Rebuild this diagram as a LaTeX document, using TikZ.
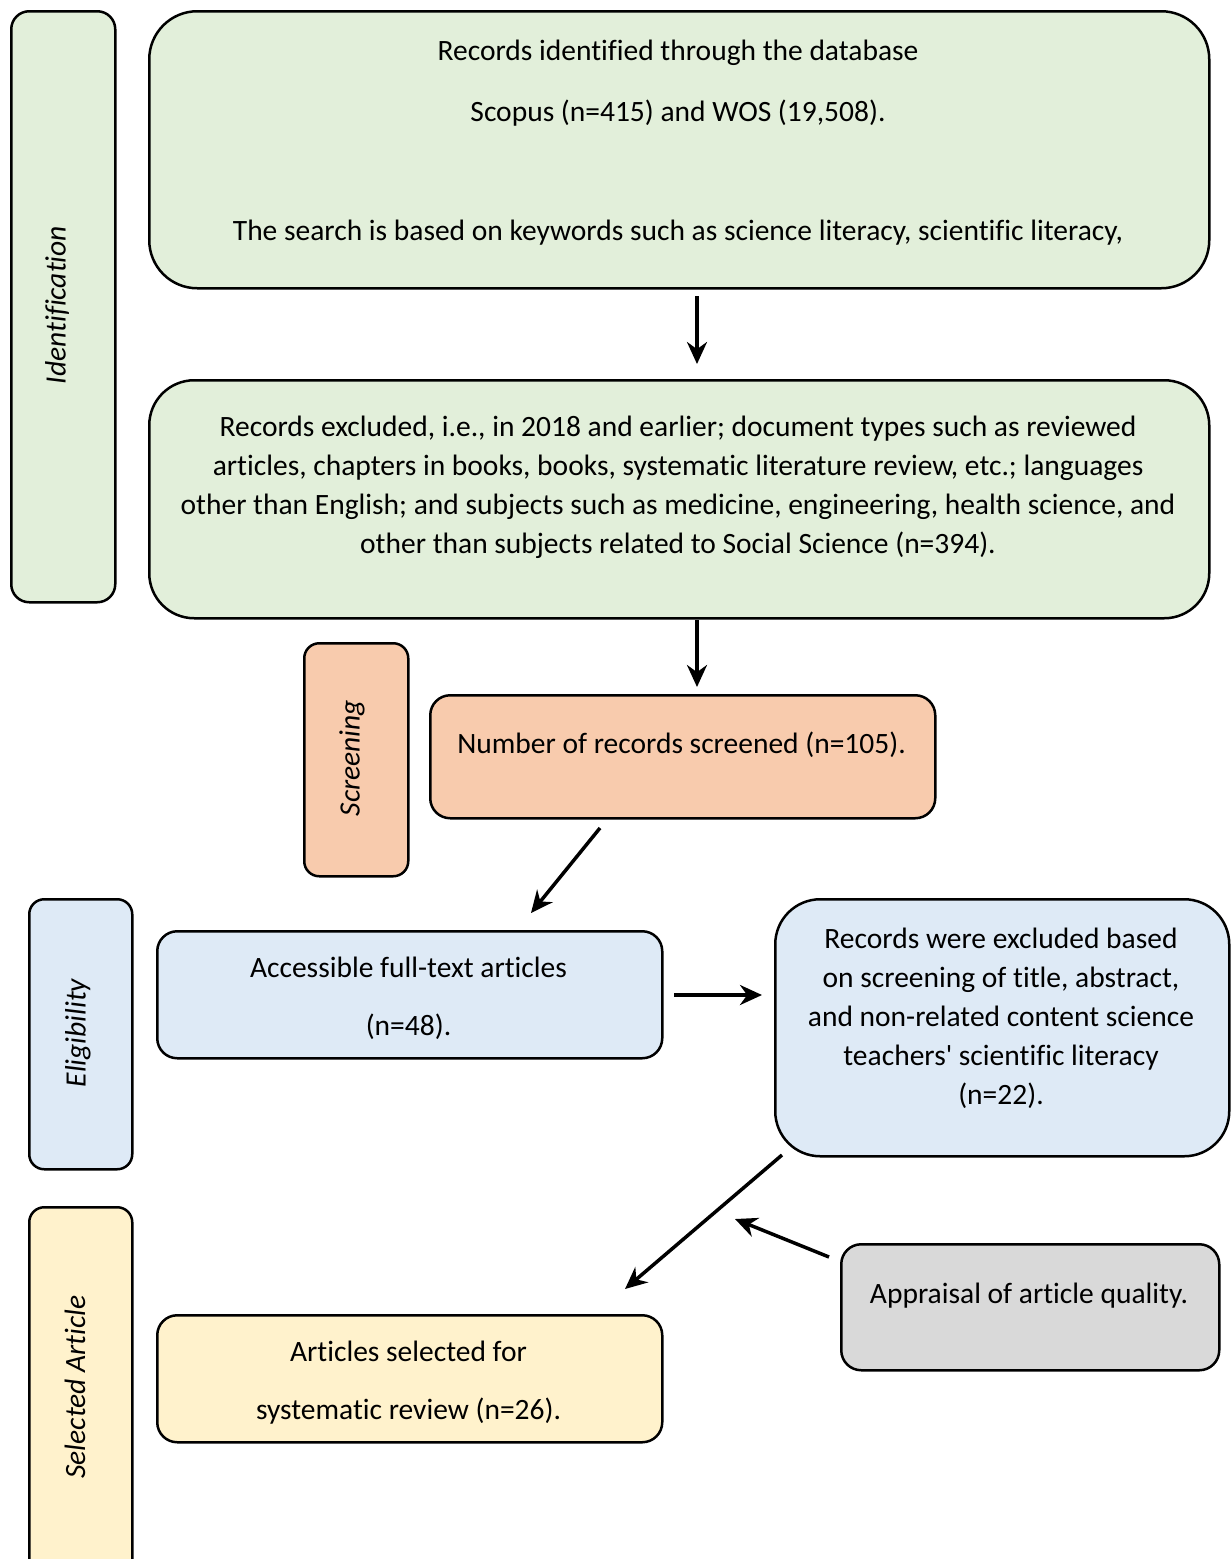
\documentclass[tikz,border=0pt]{standalone}
\usepackage{fontspec}
\setmainfont{Carlito}[Ligatures={NoCommon}]
\usetikzlibrary{arrows.meta}
\definecolor{gfill}{HTML}{E2EFDA}
\definecolor{ofill}{HTML}{F8CBAD}
\definecolor{bfill}{HTML}{DEEAF6}
\definecolor{yfill}{HTML}{FFF2CC}
\definecolor{grfill}{HTML}{D9D9D9}
\tikzset{
  bx/.style={draw=black, line width=2.5pt, anchor=north west, inner sep=0pt},
  txt/.style={font=\fontsize{29.5}{39}\selectfont, align=center, inner sep=0pt},
  side/.style={font=\fontsize{29.5}{39}\selectfont\itshape, rotate=90, inner sep=0pt},
  arr/.style={line width=3.5pt, -{Stealth[length=22pt,width=20pt]}}
}
\begin{document}
\begin{tikzpicture}[x=1pt,y=-1pt]
\useasboundingbox (0,0) rectangle (1232,1559);
\clip (0,0) rectangle (1232,1559);
% side boxes
\node[bx, fill=gfill, rounded corners=18pt, minimum width=104pt, minimum height=591pt] (sid) at (10,10) {};
\node[side] at (57,305) {Identification};
\node[bx, fill=ofill, rounded corners=15pt, minimum width=104pt, minimum height=233pt] (sscr) at (303,642) {};
\node[side] at (352,758) {Screening};
\node[bx, fill=bfill, rounded corners=15pt, minimum width=103pt, minimum height=270pt] (selig) at (28,898) {};
\node[side] at (78,1033) {Eligibility};
\node[bx, fill=yfill, rounded corners=15pt, minimum width=103pt, minimum height=380pt] (ssel) at (28,1206) {};
\node[side] at (75,1387) {Selected Article};
% main boxes
\node[bx, fill=gfill, rounded corners=48pt, minimum width=1060pt, minimum height=277pt] (ident) at (148,10) {};
\begin{scope}
\clip (148,10) rectangle (1208,286);
\node[txt] at (678,53) {Records identified through the database};
\node[txt] at (678,113) {Scopus (n=415) and WOS (19,508).};
\node[txt] at (678,233) {The search is based on keywords such as science literacy, scientific literacy,};
\end{scope}
\node[bx, fill=gfill, rounded corners=45pt, minimum width=1060pt, minimum height=238pt] (excl) at (148,379) {};
\node[txt] at (678,487) {Records excluded, i.e., in 2018 and earlier; document types such as reviewed\\articles, chapters in books, books, systematic literature review, etc.; languages\\other than English; and subjects such as medicine, engineering, health science, and\\other than subjects related to Social Science (n=394).};
\node[bx, fill=ofill, rounded corners=20pt, minimum width=505pt, minimum height=123pt] (scr) at (429,694) {};
\node[txt] at (681.5,745) {Number of records screened (n=105).};
\node[bx, fill=bfill, rounded corners=20pt, minimum width=505pt, minimum height=127pt] (acc) at (156,930) {};
\node[txt] at (408.5,967) {Accessible full-text articles};
\node[txt] at (408.5,1027) {(n=48).};
\node[bx, fill=bfill, rounded corners=45pt, minimum width=454pt, minimum height=257pt] (rex) at (774,898) {};
\node[txt] at (1001,1018) {Records were excluded based\\on screening of title, abstract,\\and non-related content science\\teachers\textquotesingle{} scientific literacy\\(n=22).};
\node[bx, fill=grfill, rounded corners=20pt, minimum width=378pt, minimum height=126pt] (app) at (840,1243) {};
\node[txt] at (1029,1296) {Appraisal of article quality.};
\node[bx, fill=yfill, rounded corners=20pt, minimum width=505pt, minimum height=127pt] (sel) at (156,1314) {};
\node[txt] at (408.5,1351) {Articles selected for};
\node[txt] at (408.5,1411) {systematic review (n=26).};
% arrow end points
\coordinate (a1s) at (697,296); \coordinate (a1e) at (697,364);
\coordinate (a2s) at (697,620); \coordinate (a2e) at (697,687);
\coordinate (a3s) at (600,828); \coordinate (a3e) at (531,913);
\coordinate (a4s) at (674,995); \coordinate (a4e) at (762,995);
\coordinate (a5s) at (782,1155); \coordinate (a5e) at (625,1289);
\coordinate (a6s) at (829,1257); \coordinate (a6e) at (735,1219);
\draw[arr] (a1s) -- (a1e);
\draw[arr] (a2s) -- (a2e);
\draw[arr] (a3s) -- (a3e);
\draw[arr] (a4s) -- (a4e);
\draw[arr] (a5s) -- (a5e);
\draw[arr] (a6s) -- (a6e);
\end{tikzpicture}
\end{document}
